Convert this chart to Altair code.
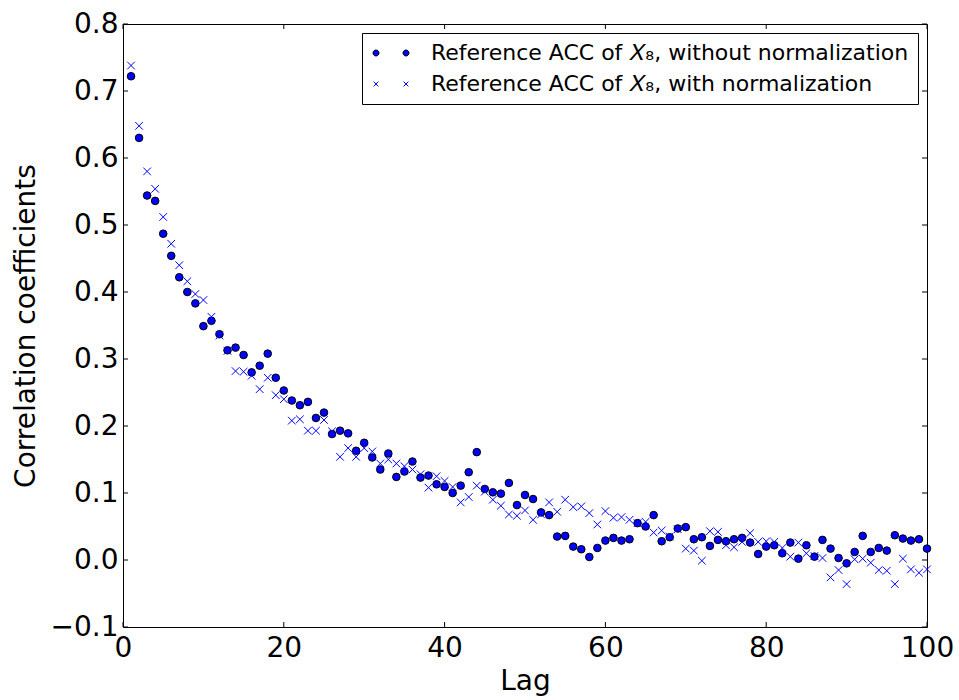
import altair as alt
import pandas as pd

lags = list(range(1, 101))

without_norm = [
    0.722, 0.630, 0.544, 0.536, 0.487, 0.454, 0.422, 0.400, 0.383, 0.349,
    0.357, 0.337, 0.313, 0.317, 0.306, 0.280, 0.290, 0.308, 0.272, 0.253,
    0.238, 0.231, 0.236, 0.212, 0.220, 0.188, 0.193, 0.189, 0.163, 0.175,
    0.153, 0.135, 0.159, 0.124, 0.132, 0.147, 0.123, 0.126, 0.113, 0.109,
    0.100, 0.111, 0.131, 0.161, 0.106, 0.101, 0.099, 0.115, 0.082, 0.097,
    0.091, 0.071, 0.067, 0.035, 0.036, 0.020, 0.016, 0.0045, 0.018, 0.029,
    0.033, 0.029, 0.031, 0.055, 0.050, 0.067, 0.028, 0.034, 0.047, 0.049,
    0.031, 0.034, 0.021, 0.030, 0.028, 0.031, 0.033, 0.026, 0.009, 0.020,
    0.022, 0.010, 0.026, 0.002, 0.022, 0.005, 0.030, 0.017, 0.003, -0.005,
    0.012, 0.036, 0.012, 0.018, 0.014, 0.037, 0.032, 0.029, 0.031, 0.017,
]

with_norm = [
    0.738, 0.648, 0.580, 0.554, 0.512, 0.472, 0.440, 0.416, 0.397, 0.388,
    0.363, 0.335, 0.312, 0.282, 0.281, 0.275, 0.255, 0.272, 0.246, 0.240,
    0.208, 0.210, 0.193, 0.193, 0.209, 0.192, 0.154, 0.167, 0.154, 0.167,
    0.162, 0.144, 0.150, 0.144, 0.140, 0.135, 0.128, 0.108, 0.125, 0.118,
    0.109, 0.086, 0.094, 0.111, 0.102, 0.090, 0.081, 0.068, 0.066, 0.074,
    0.060, 0.068, 0.086, 0.072, 0.090, 0.079, 0.080, 0.070, 0.053, 0.073,
    0.063, 0.064, 0.060, 0.055, 0.057, 0.041, 0.044, 0.035, 0.046, 0.017,
    0.014, -0.001, 0.043, 0.042, 0.022, 0.019, 0.027, 0.040, 0.027, 0.028,
    0.027, 0.018, 0.005, 0.026, 0.010, 0.006, 0.003, -0.026, -0.015, -0.036,
    0.001, 0.002, -0.004, -0.015, -0.016, -0.036, 0.002, -0.014, -0.019, -0.014,
]

series_names = [
    "Reference ACC of 𝑋₈, without normalization",
    "Reference ACC of 𝑋₈, with normalization",
]

x_ticks = [0, 20, 40, 60, 80, 100]
y_ticks = [-0.1, 0.0, 0.1, 0.2, 0.3, 0.4, 0.5, 0.6, 0.7, 0.8]

W, H = 804, 603
TICK = 5

df = pd.DataFrame({
    "lag": lags + lags,
    "value": without_norm + with_norm,
    "series": [series_names[0]] * len(lags) + [series_names[1]] * len(lags),
})
xt = pd.DataFrame({"t": x_ticks})
yt = pd.DataFrame({"t": y_ticks})

xscale = alt.Scale(domain=[0, 100], nice=False, zero=False)
yscale = alt.Scale(domain=[-0.1, 0.8], nice=False, zero=False)

cross_path = "M-1,-1L1,1M-1,1L1,-1"

# legend symbols: two markers per entry, as in the original
two_circles = "M-3,0A1,1,0,1,0,-1,0A1,1,0,1,0,-3,0ZM7,0A1,1,0,1,0,9,0A1,1,0,1,0,7,0Z"
two_crosses = ("M-2.8,-0.8L-1.2,0.8M-2.8,0.8L-1.2,-0.8"
               "M7.2,-0.8L8.8,0.8M7.2,0.8L8.8,-0.8")

xenc = alt.X("lag:Q", scale=xscale,
             axis=alt.Axis(values=x_ticks, format="d", title="Lag",
                           labelPadding=7, titlePadding=5, labelFlush=False))
yenc = alt.Y("value:Q", scale=yscale,
             axis=alt.Axis(values=y_ticks, format=".1f", title="Correlation coefficients",
                           labelPadding=5, titlePadding=10))

points = alt.Chart(df).mark_point(filled=False, strokeWidth=1, opacity=1, size=58).encode(
    x=xenc,
    y=yenc,
    shape=alt.Shape("series:N",
                    scale=alt.Scale(domain=series_names, range=["circle", cross_path]),
                    legend=None),
    fill=alt.Fill("series:N",
                  scale=alt.Scale(domain=series_names, range=["#0000ff", "transparent"]),
                  legend=None),
    stroke=alt.Stroke("series:N",
                      scale=alt.Scale(domain=series_names, range=["#000000", "#0000ff"]),
                      legend=None),
)

leg = alt.Legend(title=None)
legend_layer = alt.Chart(df).transform_filter("false").mark_point(
    filled=False, strokeWidth=1, opacity=1, size=36
).encode(
    x=alt.X("lag:Q", scale=xscale),
    y=alt.Y("value:Q", scale=yscale),
    shape=alt.Shape("series:N",
                    scale=alt.Scale(domain=series_names, range=[two_circles, two_crosses]),
                    legend=leg),
    fill=alt.Fill("series:N",
                  scale=alt.Scale(domain=series_names, range=["#0000ff", "transparent"]),
                  legend=leg),
    stroke=alt.Stroke("series:N",
                      scale=alt.Scale(domain=series_names, range=["#000000", "#0000ff"]),
                      legend=leg),
)

left_ticks = alt.Chart(yt).mark_rule(color="black", strokeWidth=1).encode(
    y=alt.Y("t:Q", scale=yscale), x=alt.value(0), x2=alt.value(TICK))
right_ticks = alt.Chart(yt).mark_rule(color="black", strokeWidth=1).encode(
    y=alt.Y("t:Q", scale=yscale), x=alt.value(W - TICK), x2=alt.value(W))
bottom_ticks = alt.Chart(xt).mark_rule(color="black", strokeWidth=1).encode(
    x=alt.X("t:Q", scale=xscale), y=alt.value(H - TICK), y2=alt.value(H))
top_ticks = alt.Chart(xt).mark_rule(color="black", strokeWidth=1).encode(
    x=alt.X("t:Q", scale=xscale), y=alt.value(0), y2=alt.value(TICK))

chart = alt.layer(
    points, legend_layer, left_ticks, right_ticks, bottom_ticks, top_ticks
).resolve_scale(
    shape="independent", fill="independent", stroke="independent"
).properties(
    width=W, height=H,
    autosize=alt.AutoSizeParams(type="none"),
    padding={"left": 123, "top": 24, "right": 32, "bottom": 73},
).configure_view(
    stroke="black", strokeWidth=1,
).configure_axis(
    domain=False, ticks=False, grid=False,
    labelFont="DejaVu Sans", labelFontSize=28, labelColor="black",
    titleFont="DejaVu Sans", titleFontSize=28, titleFontWeight="normal", titleColor="black",
).configure_legend(
    orient="top-right", offset=9,
    strokeColor="black", fillColor="white", padding=9, cornerRadius=0,
    labelFont="DejaVu Sans", labelFontSize=22, labelColor="black", labelLimit=700,
    labelOffset=38, rowPadding=9, symbolSize=36, symbolStrokeWidth=1,
)

chart.save("out.html", embed_options={"renderer": "svg", "actions": False})
